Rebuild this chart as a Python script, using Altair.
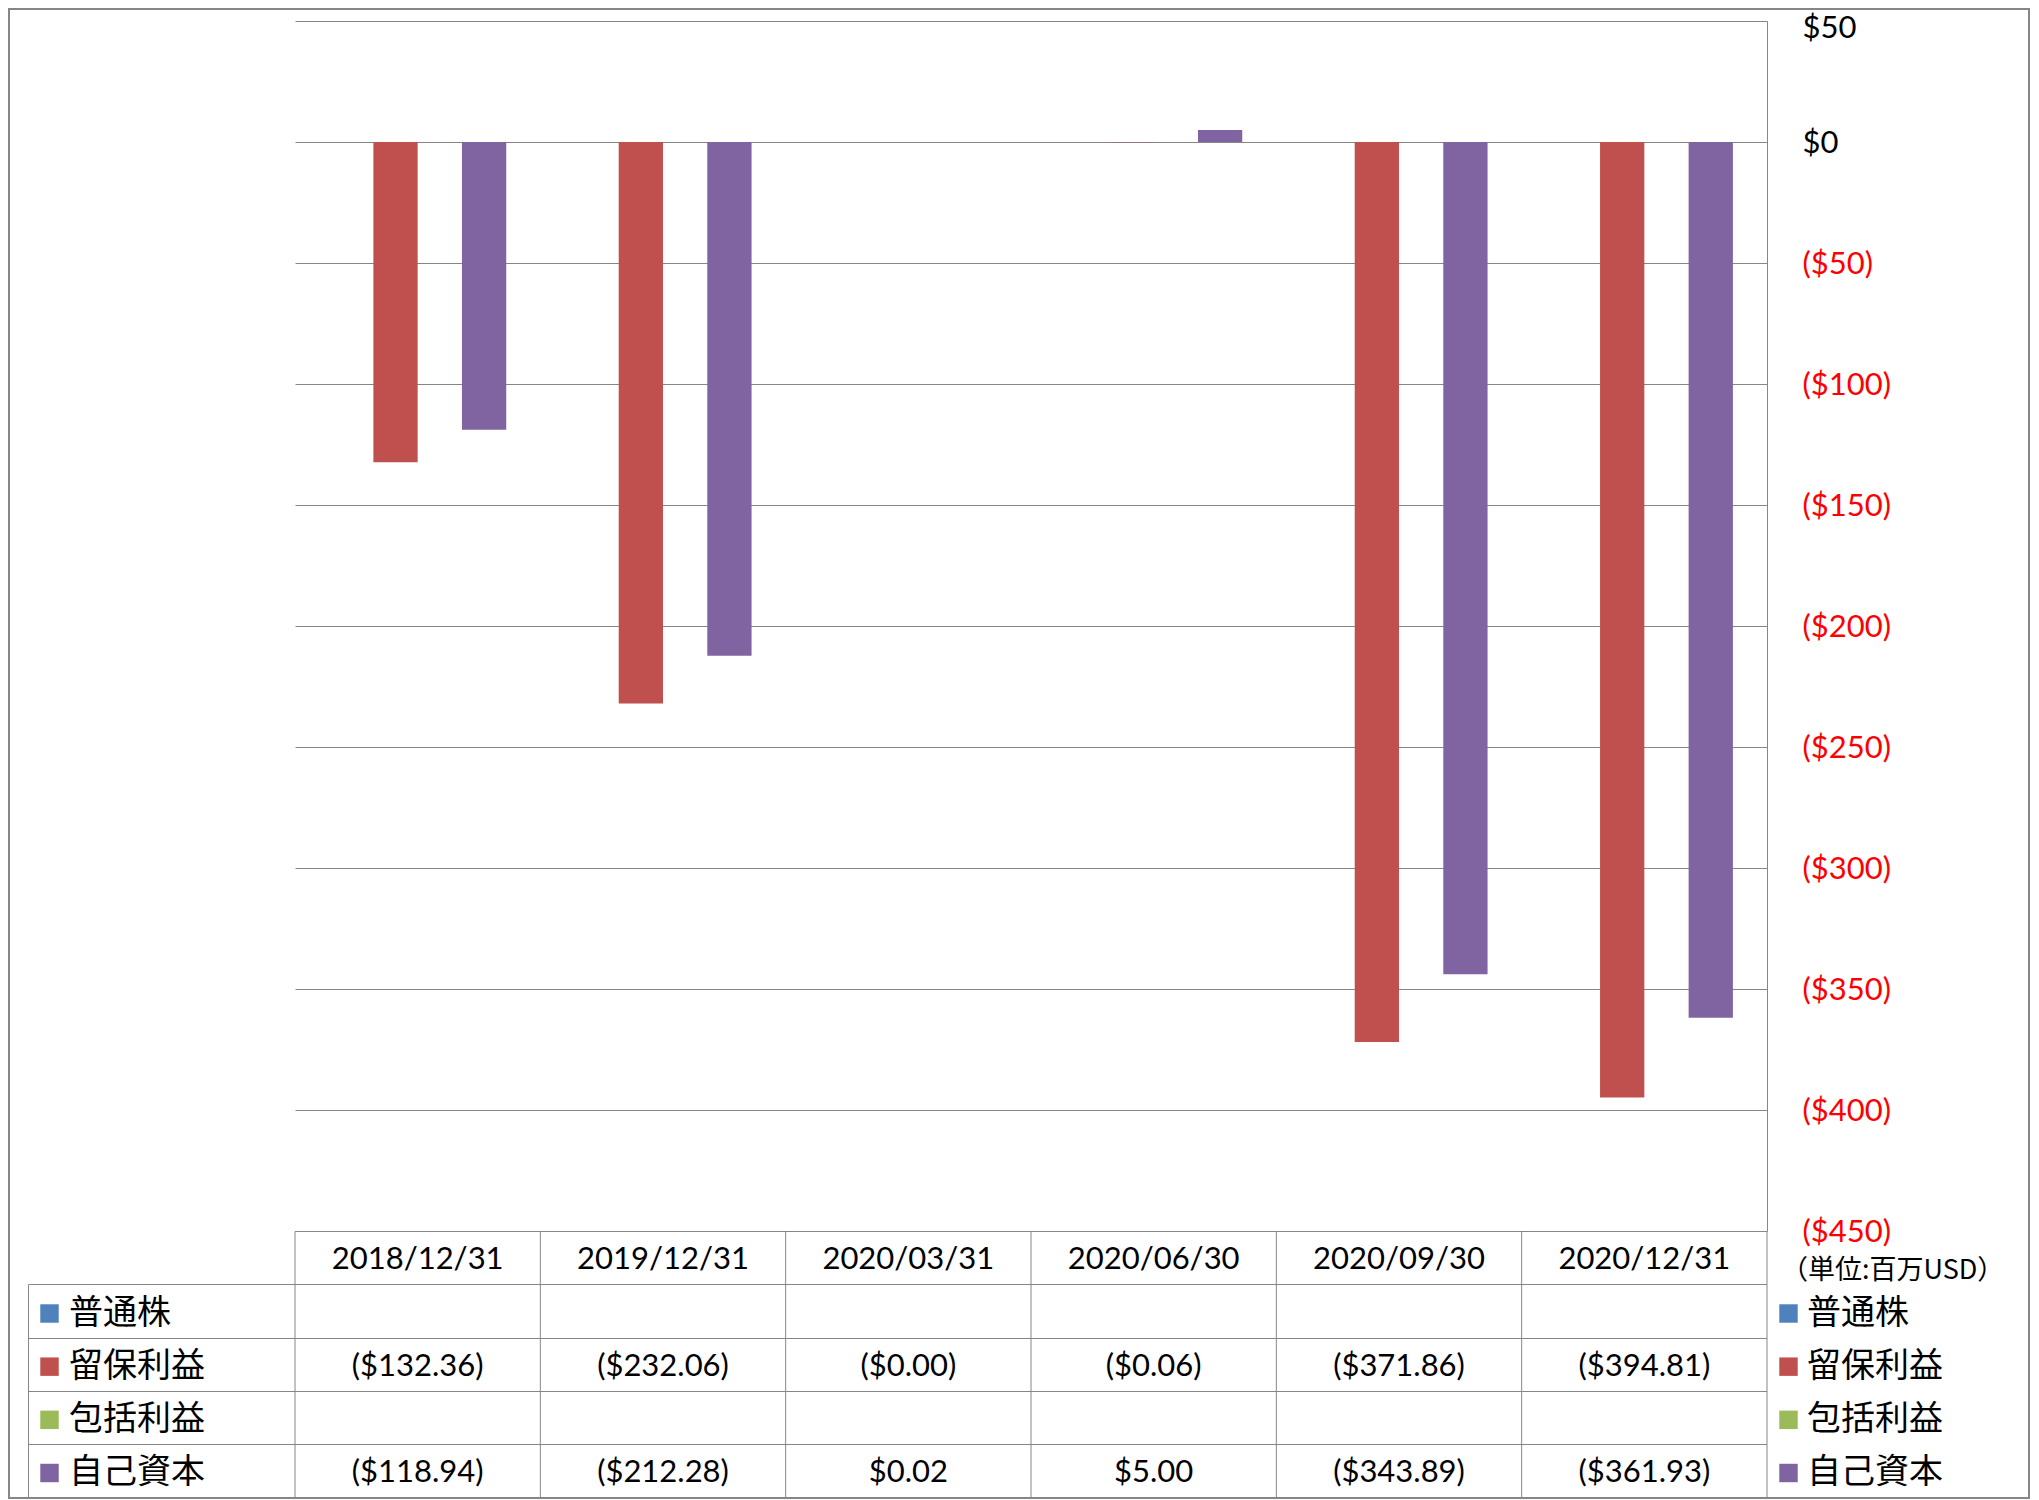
import altair as alt
import pandas as pd

# ---------------- data ----------------
dates = ["2018/12/31", "2019/12/31", "2020/03/31", "2020/06/30", "2020/09/30", "2020/12/31"]
series = ["普通株", "留保利益", "包括利益", "自己資本"]
colors = ["#4F81BD", "#C0504D", "#9BBB59", "#8064A2"]
common_stock = [None, None, None, None, None, None]
retained_earnings = [-132.36, -232.06, -0.004, -0.06, -371.86, -394.81]
comprehensive_income = [None, None, None, None, None, None]
equity = [-118.94, -212.28, 0.02, 5.00, -343.89, -361.93]
y_ticks = [-450, -400, -350, -300, -250, -200, -150, -100, -50, 0, 50]
unit_label = "（単位:百万USD）"


def fmt(v):
    return f"(${abs(v):,.2f})" if v < 0 else f"${v:,.2f}"


rows = []
for s, vals in zip(series, [common_stock, retained_earnings, comprehensive_income, equity]):
    for d, v in zip(dates, vals):
        if v is not None:
            rows.append({"date": d, "series": s, "value": v, "label": fmt(v)})
df = pd.DataFrame(rows)
series_df = pd.DataFrame({"series": series})
dates_df = pd.DataFrame({"date": dates})
one = pd.DataFrame({"k": [0]})

# ---------------- style ----------------
W, H = 1472, 1210
NUM_FONT = "Lato"
JP_FONT = "Noto Sans CJK JP"
GRID = "#868686"

x_scale = alt.Scale(domain=dates, paddingInner=0, paddingOuter=0)
color_scale = alt.Scale(domain=series, range=colors)
row_scale = alt.Scale(type="point", domain=series, range=[1292.5, 1452.0], padding=0)
X = lambda **kw: alt.X("date:N", scale=x_scale, axis=None, **kw)

bars = alt.Chart(df).mark_bar().encode(
    x=X(),
    xOffset=alt.XOffset("series:N", scale=alt.Scale(domain=series, paddingInner=0, paddingOuter=0.77)),
    y=alt.Y(
        "value:Q",
        scale=alt.Scale(domain=[-450, 50], nice=False),
        axis=alt.Axis(
            orient="right", values=y_ticks, grid=True, gridColor=GRID, gridWidth=1,
            domain=True, domainColor=GRID, domainWidth=1, ticks=False,
            labelPadding=35, labelFont=NUM_FONT, labelFontSize=31, labelOverlap=False,
            labelOffset={"condition": {"test": "datum.value == 50", "value": 7}, "value": 1},
            labelColor={"condition": {"test": "datum.value < 0", "value": "#FF0000"}, "value": "#000000"},
            labelExpr="datum.value < 0 ? '($' + format(-datum.value, 'd') + ')' : '$' + format(datum.value, 'd')",
            title=None,
        ),
    ),
    color=alt.Color("series:N", scale=color_scale, legend=None),
)

layers = [bars]

# table lines
def hline(y, x1, x2):
    return alt.Chart(one).mark_rule(color=GRID, strokeWidth=1).encode(
        x=alt.value(x1), x2=alt.value(x2), y=alt.value(y))

def vline(x, y1, y2):
    return alt.Chart(one).mark_rule(color=GRID, strokeWidth=1).encode(
        x=alt.value(x), y=alt.value(y1), y2=alt.value(y2))

layers.append(hline(1210.5, 0, W))
for yy in [1263.5, 1317.5, 1370.5, 1423.5, 1476.5]:
    layers.append(hline(yy, -266.5, W))
layers.append(vline(-266.5, 1263.5, 1476.5))
layers.append(vline(W, 1210.5, 1476.5))
layers.append(
    alt.Chart(dates_df).mark_rule(color=GRID, strokeWidth=1).encode(
        x=X(bandPosition=0), y=alt.value(1210.5), y2=alt.value(1476.5))
)

# header dates
layers.append(
    alt.Chart(dates_df).mark_text(font=NUM_FONT, fontSize=31, baseline="middle", color="black").encode(
        x=X(bandPosition=0.5), y=alt.value(1239), text="date:N")
)

# table values
layers.append(
    alt.Chart(df).mark_text(font=NUM_FONT, fontSize=31, baseline="middle", color="black").encode(
        x=X(bandPosition=0.5), y=alt.Y("series:N", scale=row_scale, axis=None), text="label:N")
)

# left legend inside table
layers.append(
    alt.Chart(series_df).mark_square(size=340, opacity=1).encode(
        x=alt.value(-245.5), y=alt.Y("series:N", scale=row_scale, axis=None),
        color=alt.Color("series:N", scale=color_scale, legend=None))
)
layers.append(
    alt.Chart(series_df).mark_text(font=JP_FONT, fontSize=34, align="left", baseline="middle", color="black").encode(
        x=alt.value(-226), y=alt.Y("series:N", scale=row_scale, axis=None), text="series:N")
)

# right legend
layers.append(
    alt.Chart(series_df).mark_square(size=340, opacity=1).encode(
        x=alt.value(1493.5), y=alt.Y("series:N", scale=row_scale, axis=None),
        color=alt.Color("series:N", scale=color_scale, legend=None))
)
layers.append(
    alt.Chart(series_df).mark_text(font=JP_FONT, fontSize=34, align="left", baseline="middle", color="black").encode(
        x=alt.value(1512), y=alt.Y("series:N", scale=row_scale, axis=None), text="series:N")
)
layers.append(
    alt.Chart(pd.DataFrame({"t": [unit_label]})).mark_text(
        font=JP_FONT, fontSize=27, align="left", baseline="middle", color="black").encode(
        x=alt.value(1486), y=alt.value(1250), text="t:N")
)

# outer border
layers.append(
    alt.Chart(one).mark_rect(fillOpacity=0, stroke=GRID, strokeWidth=2).encode(
        x=alt.value(-286), x2=alt.value(1734), y=alt.value(-12), y2=alt.value(1477))
)

chart = alt.layer(*layers).resolve_scale(y="independent").properties(
    width=W, height=H,
    padding={"left": 287, "top": 13, "right": 264, "bottom": 268},
    autosize=alt.AutoSizeParams(type="none"),
    background="white",
).configure_view(stroke=None)

chart.save("out.html", embed_options={"renderer": "svg", "actions": False})
